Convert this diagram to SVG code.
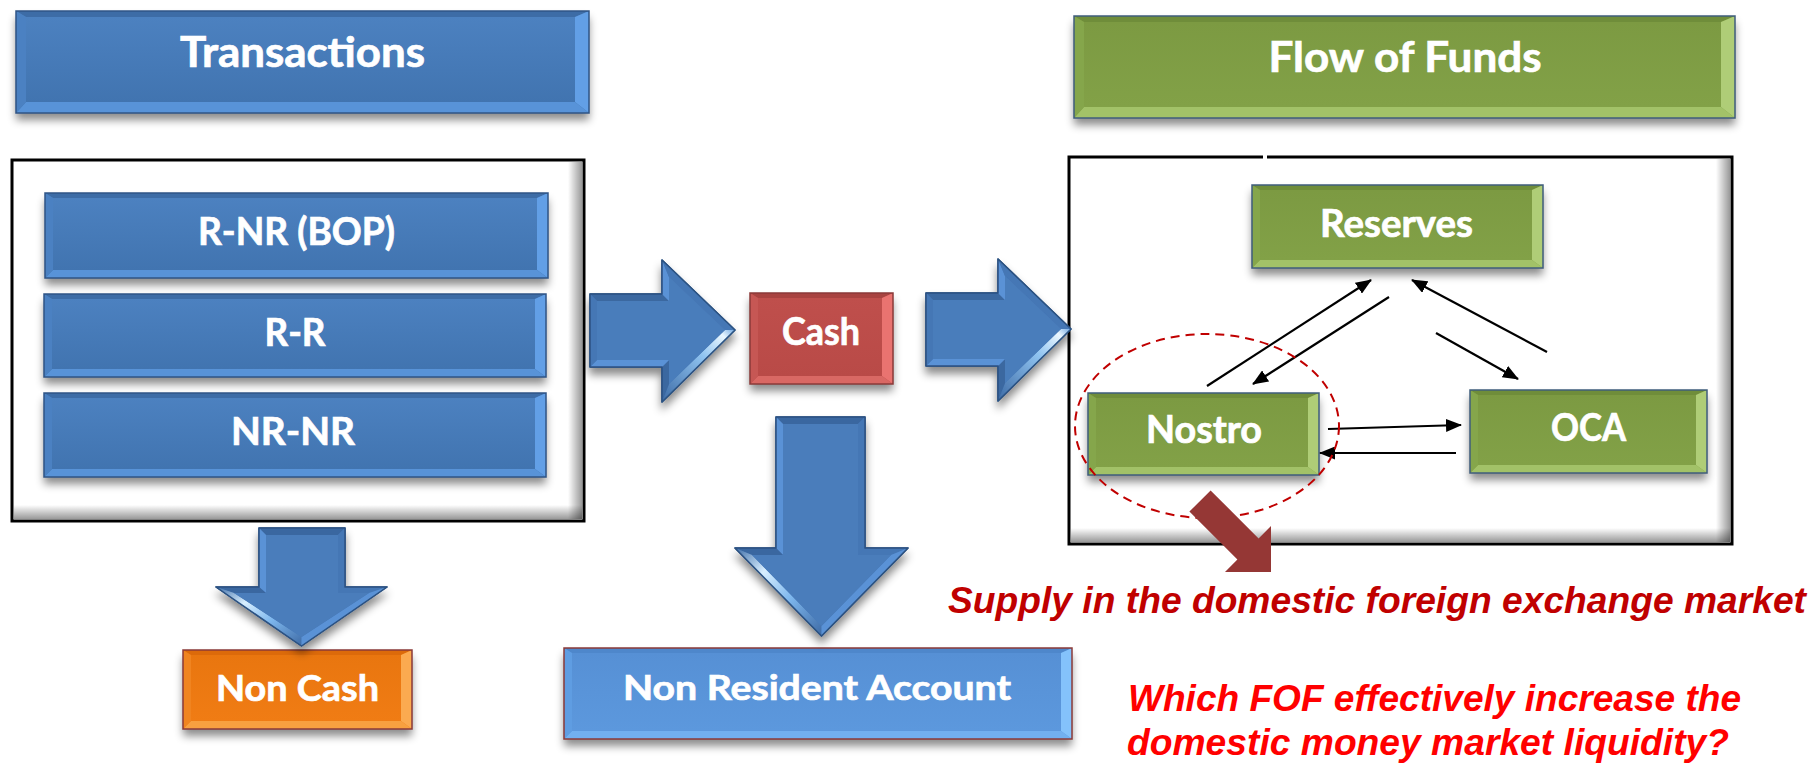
<svg xmlns="http://www.w3.org/2000/svg" xmlns:xlink="http://www.w3.org/1999/xlink" width="1814" height="763" viewBox="0 0 1814 763">
  <defs>
    <style>
      .lbl{font-family:"Lato","Open Sans",sans-serif;font-weight:700;fill:#fff;stroke:#fff;stroke-width:0.7;text-anchor:middle}
      .note{font-family:"Liberation Sans",Arial,sans-serif;font-weight:700;font-style:italic}
      .frame{fill:#fff;stroke:#000;stroke-width:3}
      .base{filter:url(#shadow)}
      .edge{fill:none;stroke-width:1.5}
      .blue .base,.blue .face{fill:url(#gBlue)} .blue .top{fill:#3d6ca6} .blue .left{fill:#4b81c2} .blue .bot{fill:#5893d8} .blue .right{fill:#629fe6} .blue .edge{stroke:#2f5486}
      .lblue .base,.lblue .face{fill:url(#gLBlue)} .lblue .top{fill:#4e87cb} .lblue .left{fill:#5f9de2} .lblue .bot{fill:#72b0f0} .lblue .right{fill:#84c2fb} .lblue .edge{stroke:#8b3a38}
      .green .base,.green .face{fill:url(#gGreen)} .green .top{fill:#6f8d3a} .green .left{fill:#85a64b} .green .bot{fill:#a2c268} .green .right{fill:#afcd77} .green .edge{stroke:#3f5d7c}
      .red .base,.red .face{fill:url(#gRed)} .red .top{fill:#a84340} .red .left{fill:#c65754} .red .bot{fill:#d96864} .red .right{fill:#e97370} .red .edge{stroke:#8b3a38}
      .orange .base,.orange .face{fill:url(#gOrange)} .orange .top{fill:#dc6a0a} .orange .left{fill:#f08420} .orange .bot{fill:#f8a040} .orange .right{fill:#fbaa50} .orange .edge{stroke:#8b3a38}
      .ba .outline{fill:#4678b6;stroke:#2c5282;stroke-width:1.5;stroke-linejoin:round}
      .ba .dark{fill:#3a67a0} .ba .mid{fill:#4577b5} .ba .light{fill:#5a92d6} .ba .face{fill:#4a7dbb}
      .link{fill:none;stroke:#000;stroke-width:2.2;marker-end:url(#head)}
    </style>
    <filter id="shadow" x="-10%" y="-20%" width="120%" height="170%">
      <feDropShadow dx="0" dy="7" stdDeviation="4" flood-color="#000" flood-opacity="0.45"/>
    </filter>
    <linearGradient id="gBlue" x1="0" y1="0" x2="0" y2="1"><stop offset="0" stop-color="#4c81c0"/><stop offset="1" stop-color="#4174b0"/></linearGradient>
    <linearGradient id="gLBlue" x1="0" y1="0" x2="0" y2="1"><stop offset="0" stop-color="#5690d5"/><stop offset="1" stop-color="#5c98dd"/></linearGradient>
    <linearGradient id="gGreen" x1="0" y1="0" x2="0" y2="1"><stop offset="0" stop-color="#7c9a42"/><stop offset="1" stop-color="#82a147"/></linearGradient>
    <linearGradient id="gRed" x1="0" y1="0" x2="0" y2="1"><stop offset="0" stop-color="#bf4f4c"/><stop offset="1" stop-color="#b94a47"/></linearGradient>
    <linearGradient id="gOrange" x1="0" y1="0" x2="0" y2="1"><stop offset="0" stop-color="#e9760f"/><stop offset="1" stop-color="#f07c14"/></linearGradient>
    <linearGradient id="gShadeR" x1="0" y1="0" x2="1" y2="0"><stop offset="0" stop-color="#000" stop-opacity="0"/><stop offset="1" stop-color="#000" stop-opacity="0.4"/></linearGradient>
    <linearGradient id="gShadeB" x1="0" y1="0" x2="0" y2="1"><stop offset="0" stop-color="#000" stop-opacity="0"/><stop offset="1" stop-color="#000" stop-opacity="0.4"/></linearGradient>
    <linearGradient id="gGlareR" x1="1" y1="0" x2="0" y2="1"><stop offset="0" stop-color="#6fa6e0"/><stop offset="0.12" stop-color="#eaf7ff"/><stop offset="0.4" stop-color="#8fc3f0"/><stop offset="1" stop-color="#3c6aa5"/></linearGradient>
    <linearGradient id="gGlareD" x1="0" y1="0" x2="1" y2="1"><stop offset="0" stop-color="#3f6ea8"/><stop offset="0.3" stop-color="#d8efff"/><stop offset="0.6" stop-color="#7fb8ee"/><stop offset="1" stop-color="#3d6aa5"/></linearGradient>
    <marker id="head" viewBox="0 0 16 13" markerWidth="16" markerHeight="13" refX="15" refY="6.5" orient="auto" markerUnits="userSpaceOnUse">
      <path d="M0,0 L16,6.5 L0,13 z" fill="#000"/>
    </marker>
    <!-- bevelled block arrow pointing right, local origin at its top-left -->
    <g id="arrowR" class="ba">
      <polygon class="outline" points="0,34 72,34 72,0 145,70 72,142 72,107 0,107"/>
      <polygon class="dark" points="0,34 72,34 79,41 7,41"/>
      <polygon class="light" points="72,34 72,0 79,17 79,41"/>
      <polygon class="mid" points="72,0 145,70 135,70 79,17"/>
      <polygon fill="url(#gGlareR)" points="145,70 72,142 79,124 135,70"/>
      <polygon class="dark" points="72,142 72,107 79,100 79,124"/>
      <polygon class="light" points="72,107 0,107 7,100 79,100"/>
      <polygon class="mid" points="0,107 0,34 7,41 7,100"/>
      <polygon class="face" points="7,41 79,41 79,17 135,70 79,124 79,100 7,100"/>
      <polygon fill="none" stroke="#2c5282" stroke-width="1.5" stroke-linejoin="round" points="0,34 72,34 72,0 145,70 72,142 72,107 0,107"/>
    </g>
  </defs>

  <rect width="1814" height="763" fill="#fff"/>

  <!-- container frames -->
  <g id="transactions-frame">
    <rect class="frame" x="12" y="160" width="572" height="361"/>
    <rect x="568" y="162" width="14" height="357" fill="url(#gShadeR)"/>
    <rect x="14" y="505" width="568" height="14" fill="url(#gShadeB)"/>
  </g>
  <g id="funds-frame">
    <rect class="frame" x="1069" y="157" width="663" height="387"/>
    <rect x="1716" y="159" width="14" height="383" fill="url(#gShadeR)"/>
    <rect x="1071" y="528" width="659" height="14" fill="url(#gShadeB)"/>
    <rect x="1263" y="153" width="4" height="8" fill="#fff"/>
  </g>

  <!-- header boxes -->
  <g id="transactions" class="blue">
    <rect class="base" x="16" y="11" width="573" height="102"/>
    <polygon class="top" points="16,11 589,11 575,17 26,17"/>
    <polygon class="right" points="589,11 589,113 575,102 575,17"/>
    <polygon class="bot" points="16,113 589,113 575,102 26,102"/>
    <polygon class="left" points="16,11 16,113 26,102 26,17"/>
    <rect class="face" x="26" y="17" width="549" height="85"/>
    <rect class="edge" x="16" y="11" width="573" height="102"/>
    <text class="lbl" x="302.5" y="67" font-size="42" textLength="245" lengthAdjust="spacingAndGlyphs">Transactions</text>
  </g>

  <g id="flow-of-funds" class="green">
    <rect class="base" x="1074" y="16" width="661" height="102"/>
    <polygon class="top" points="1074,16 1735,16 1721,22 1084,22"/>
    <polygon class="right" points="1735,16 1735,118 1721,107 1721,22"/>
    <polygon class="bot" points="1074,118 1735,118 1721,107 1084,107"/>
    <polygon class="left" points="1074,16 1074,118 1084,107 1084,22"/>
    <rect class="face" x="1084" y="22" width="637" height="85"/>
    <rect class="edge" x="1074" y="16" width="661" height="102"/>
    <text class="lbl" x="1405" y="72" font-size="42" textLength="273" lengthAdjust="spacingAndGlyphs">Flow of Funds</text>
  </g>

  <!-- transaction types -->
  <g id="r-nr" class="blue">
    <rect class="base" x="45" y="193" width="503" height="85"/>
    <polygon class="top" points="45,193 548,193 537,198 53,198"/>
    <polygon class="right" points="548,193 548,278 537,270 537,198"/>
    <polygon class="bot" points="45,278 548,278 537,270 53,270"/>
    <polygon class="left" points="45,193 45,278 53,270 53,198"/>
    <rect class="face" x="53" y="198" width="484" height="72"/>
    <rect class="edge" x="45" y="193" width="503" height="85"/>
    <text class="lbl" x="296.5" y="245" font-size="38" textLength="197" lengthAdjust="spacingAndGlyphs">R-NR (BOP)</text>
  </g>

  <g id="r-r" class="blue">
    <rect class="base" x="44" y="294" width="502" height="83"/>
    <polygon class="top" points="44,294 546,294 535,299 52,299"/>
    <polygon class="right" points="546,294 546,377 535,369 535,299"/>
    <polygon class="bot" points="44,377 546,377 535,369 52,369"/>
    <polygon class="left" points="44,294 44,377 52,369 52,299"/>
    <rect class="face" x="52" y="299" width="483" height="70"/>
    <rect class="edge" x="44" y="294" width="502" height="83"/>
    <text class="lbl" x="295" y="346" font-size="38" textLength="61" lengthAdjust="spacingAndGlyphs">R-R</text>
  </g>

  <g id="nr-nr" class="blue">
    <rect class="base" x="44" y="393" width="502" height="84"/>
    <polygon class="top" points="44,393 546,393 535,398 52,398"/>
    <polygon class="right" points="546,393 546,477 535,469 535,398"/>
    <polygon class="bot" points="44,477 546,477 535,469 52,469"/>
    <polygon class="left" points="44,393 44,477 52,469 52,398"/>
    <rect class="face" x="52" y="398" width="483" height="71"/>
    <rect class="edge" x="44" y="393" width="502" height="84"/>
    <text class="lbl" x="293" y="445" font-size="38" textLength="124" lengthAdjust="spacingAndGlyphs">NR-NR</text>
  </g>

  <!-- cash -->
  <g id="cash" class="red">
    <rect class="base" x="750" y="293" width="143" height="91"/>
    <polygon class="top" points="750,293 893,293 882,298 758,298"/>
    <polygon class="right" points="893,293 893,384 882,376 882,298"/>
    <polygon class="bot" points="750,384 893,384 882,376 758,376"/>
    <polygon class="left" points="750,293 750,384 758,376 758,298"/>
    <rect class="face" x="758" y="298" width="124" height="78"/>
    <rect class="edge" x="750" y="293" width="143" height="91"/>
    <text class="lbl" x="821" y="345" font-size="38" textLength="78" lengthAdjust="spacingAndGlyphs">Cash</text>
  </g>

  <g id="non-cash" class="orange">
    <rect class="base" x="183" y="650" width="229" height="79"/>
    <polygon class="top" points="183,650 412,650 401,655 191,655"/>
    <polygon class="right" points="412,650 412,729 401,721 401,655"/>
    <polygon class="bot" points="183,729 412,729 401,721 191,721"/>
    <polygon class="left" points="183,650 183,729 191,721 191,655"/>
    <rect class="face" x="191" y="655" width="210" height="66"/>
    <rect class="edge" x="183" y="650" width="229" height="79"/>
    <text class="lbl" x="297.5" y="701" font-size="36" textLength="163" lengthAdjust="spacingAndGlyphs">Non Cash</text>
  </g>

  <g id="non-resident-account" class="lblue">
    <rect class="base" x="564" y="648" width="508" height="91"/>
    <polygon class="top" points="564,648 1072,648 1061,653 572,653"/>
    <polygon class="right" points="1072,648 1072,739 1061,731 1061,653"/>
    <polygon class="bot" points="564,739 1072,739 1061,731 572,731"/>
    <polygon class="left" points="564,648 564,739 572,731 572,653"/>
    <rect class="face" x="572" y="653" width="489" height="78"/>
    <rect class="edge" x="564" y="648" width="508" height="91"/>
    <text class="lbl" x="817" y="700" font-size="35" textLength="388" lengthAdjust="spacingAndGlyphs">Non Resident Account</text>
  </g>

  <!-- flow of funds accounts -->
  <g id="reserves" class="green">
    <rect class="base" x="1252" y="185" width="291" height="83"/>
    <polygon class="top" points="1252,185 1543,185 1532,190 1260,190"/>
    <polygon class="right" points="1543,185 1543,268 1532,260 1532,190"/>
    <polygon class="bot" points="1252,268 1543,268 1532,260 1260,260"/>
    <polygon class="left" points="1252,185 1252,268 1260,260 1260,190"/>
    <rect class="face" x="1260" y="190" width="272" height="70"/>
    <rect class="edge" x="1252" y="185" width="291" height="83"/>
    <text class="lbl" x="1396.5" y="237" font-size="38" textLength="153" lengthAdjust="spacingAndGlyphs">Reserves</text>
  </g>

  <g id="nostro" class="green">
    <rect class="base" x="1088" y="393" width="231" height="82"/>
    <polygon class="top" points="1088,393 1319,393 1308,398 1096,398"/>
    <polygon class="right" points="1319,393 1319,475 1308,467 1308,398"/>
    <polygon class="bot" points="1088,475 1319,475 1308,467 1096,467"/>
    <polygon class="left" points="1088,393 1088,475 1096,467 1096,398"/>
    <rect class="face" x="1096" y="398" width="212" height="69"/>
    <rect class="edge" x="1088" y="393" width="231" height="82"/>
    <text class="lbl" x="1204" y="443" font-size="38" textLength="116" lengthAdjust="spacingAndGlyphs">Nostro</text>
  </g>

  <g id="oca" class="green">
    <rect class="base" x="1470" y="390" width="237" height="83"/>
    <polygon class="top" points="1470,390 1707,390 1696,395 1478,395"/>
    <polygon class="right" points="1707,390 1707,473 1696,465 1696,395"/>
    <polygon class="bot" points="1470,473 1707,473 1696,465 1478,465"/>
    <polygon class="left" points="1470,390 1470,473 1478,465 1478,395"/>
    <rect class="face" x="1478" y="395" width="218" height="70"/>
    <rect class="edge" x="1470" y="390" width="237" height="83"/>
    <text class="lbl" x="1588.5" y="441" font-size="38" textLength="75" lengthAdjust="spacingAndGlyphs">OCA</text>
  </g>

  <!-- block arrows between stages -->
  <g id="block-arrows">
    <use xlink:href="#arrowR" href="#arrowR" transform="translate(590,260)" filter="url(#shadow)"/>
    <use xlink:href="#arrowR" href="#arrowR" transform="translate(926,259)" filter="url(#shadow)"/>

    <g class="ba" id="arrow-down-noncash">
      <polygon class="outline" filter="url(#shadow)" points="259,528 345,528 345,587 387,587 301.5,646 216,587 259,587"/>
      <polygon class="dark" points="259,528 345,528 338,535 266,535"/>
      <polygon class="light" points="259,528 266,535 266,593 259,587"/>
      <polygon class="mid" points="345,528 345,587 338,593 338,535"/>
      <polygon class="dark" points="216,587 259,587 266,593 234,593"/>
      <polygon class="mid" points="345,587 387,587 369,593 338,593"/>
      <polygon fill="url(#gGlareD)" points="216,587 301.5,646 301.5,637 234,593"/>
      <polygon class="light" points="387,587 301.5,646 301.5,637 369,593"/>
      <polygon class="face" points="266,535 338,535 338,593 369,593 301.5,637 234,593 266,593"/>
      <polygon fill="none" stroke="#2c5282" stroke-width="1.5" stroke-linejoin="round" points="259,528 345,528 345,587 387,587 301.5,646 216,587 259,587"/>
    </g>

    <g class="ba" id="arrow-down-nra">
      <polygon class="outline" filter="url(#shadow)" points="776,417 865,417 865,548 908,548 821.5,636 735,548 776,548"/>
      <polygon class="dark" points="776,417 865,417 858,424 783,424"/>
      <polygon class="light" points="776,417 783,424 783,555 776,548"/>
      <polygon class="mid" points="865,417 865,548 858,555 858,424"/>
      <polygon class="dark" points="735,548 776,548 783,555 752,555"/>
      <polygon class="mid" points="865,548 908,548 891,555 858,555"/>
      <polygon fill="url(#gGlareD)" points="735,548 821.5,636 821.5,626 752,555"/>
      <polygon class="light" points="908,548 821.5,636 821.5,626 891,555"/>
      <polygon class="face" points="783,424 858,424 858,555 891,555 821.5,626 752,555 783,555"/>
      <polygon fill="none" stroke="#2c5282" stroke-width="1.5" stroke-linejoin="round" points="776,417 865,417 865,548 908,548 821.5,636 735,548 776,548"/>
    </g>
  </g>

  <!-- flows between the accounts -->
  <g id="connectors">
    <line class="link" x1="1207" y1="386" x2="1371" y2="280"/>
    <line class="link" x1="1389" y1="297" x2="1253" y2="384"/>
    <line class="link" x1="1547" y1="352" x2="1412" y2="280"/>
    <line class="link" x1="1436" y1="333" x2="1518" y2="379"/>
    <line class="link" x1="1328" y1="429" x2="1461" y2="425"/>
    <line class="link" x1="1456" y1="453" x2="1320" y2="453"/>
  </g>

  <!-- highlight around the nostro account -->
  <ellipse id="nostro-highlight" cx="1207" cy="426" rx="132" ry="92" fill="none" stroke="#c00000" stroke-width="2" stroke-dasharray="9 6"/>
  <polygon id="supply-arrow" fill="#953735" points="1189.4,511.6 1210.6,490.4 1258.6,538.4 1271,526 1271,572 1225,572 1237.4,559.6"/>

  <!-- notes -->
  <text class="note" x="948" y="613" font-size="36" fill="#c00000" textLength="858" lengthAdjust="spacingAndGlyphs">Supply in the domestic foreign exchange market</text>
  <text class="note" x="1128" y="711" font-size="36" fill="#ff0000" textLength="613" lengthAdjust="spacingAndGlyphs">Which FOF effectively increase the</text>
  <text class="note" x="1127" y="755" font-size="36" fill="#ff0000" textLength="602" lengthAdjust="spacingAndGlyphs">domestic money market liquidity?</text>
</svg>
